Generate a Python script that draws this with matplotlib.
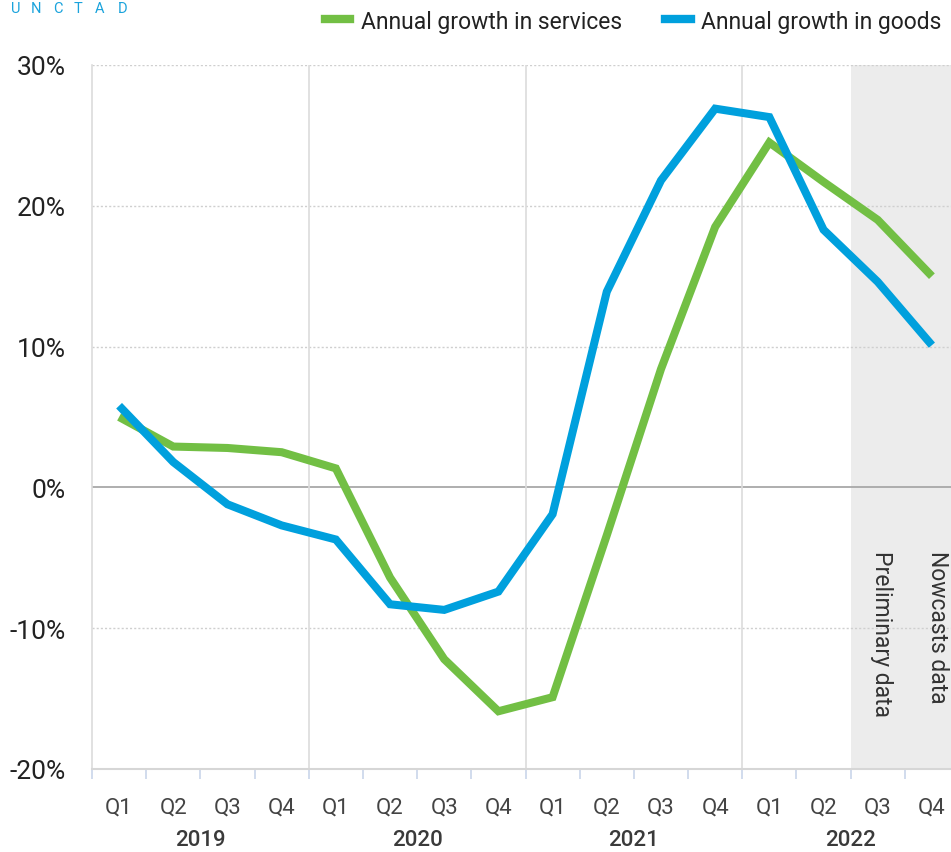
import matplotlib
matplotlib.use("Agg")
import matplotlib.pyplot as plt
import matplotlib.transforms as mtransforms
from matplotlib.lines import Line2D

plt.rcParams['font.family'] = ['Roboto', 'DejaVu Sans']

quarters = ["Q1", "Q2", "Q3", "Q4"] * 4
years = ["2019", "2020", "2021", "2022"]
services = [5.0, 2.9, 2.8, 2.5, 1.35, -6.4, -12.2, -15.9, -14.9, -3.4, 8.4, 18.5, 24.5, 21.7, 19.0, 15.0]
goods = [5.8, 1.8, -1.2, -2.7, -3.7, -8.3, -8.7, -7.4, -1.9, 13.9, 21.8, 26.9, 26.3, 18.3, 14.6, 10.1]
yticks = [-20, -10, 0, 10, 20, 30]
green = "#72bf44"
blue = "#00a0dd"

W, H = 951, 853
fig = plt.figure(figsize=(W / 100, H / 100), dpi=100)
ax_left, ax_right = 92, 959
ax = fig.add_axes([ax_left / W, 1 - 770 / H, (ax_right - ax_left) / W, (770 - 66) / H])
x = list(range(len(services)))

ax.set_xlim(-0.5, len(x) - 0.5)
ax.set_ylim(-20, 30)

# shaded nowcast region
ax.axvspan(13.5, len(x) - 0.5, color="#ececec", zorder=0, lw=0)

# grid
for v in [10, 20, 30, -10]:
    ax.axhline(v, color="#cfcfcf", lw=1, ls=(0, (1.5, 1.5)), zorder=1)
ax.axhline(0, color="#a8a8a8", lw=1.3, zorder=1)
for b in [3.5, 7.5, 11.5]:
    ax.axvline(b, color="#dcdcdc", lw=1.2, zorder=1)

ax.plot(x, services, color=green, lw=5.8, solid_capstyle="butt", solid_joinstyle="miter", zorder=3)
ax.plot(x, goods, color=blue, lw=5.8, solid_capstyle="butt", solid_joinstyle="miter", zorder=4)

for s in ["top", "right"]:
    ax.spines[s].set_visible(False)
ax.spines["left"].set_color("#dcdcdc")
ax.spines["left"].set_linewidth(1.2)
ax.spines["bottom"].set_color("#d6d6d6")
ax.spines["bottom"].set_linewidth(1.5)

ax.set_yticks(yticks)
ax.set_yticklabels([f"{v}%" for v in yticks], fontsize=19, color="#222222")
ax.tick_params(axis="y", length=0, pad=19)

ax.set_xticks([i - 0.5 for i in range(len(x) + 1)])
ax.set_xticklabels([])
ax.tick_params(axis="x", length=7, width=1.2, color="#c9d5ea", direction="out")

trans = mtransforms.blended_transform_factory(ax.transData, fig.transFigure)
for i, q in enumerate(quarters):
    ax.text(i, 1 - 808 / H, q, transform=trans, ha="center", va="center",
            fontsize=16, color="#444444")
for j, yr in enumerate(years):
    ax.text(4 * j + 1.5, 1 - 841 / H, yr, transform=trans, ha="center", va="center",
            fontsize=16, color="#3a3a3a", fontweight=500)

# annotations
ax.text(14.07, -4.45, "Preliminary data", rotation=270, ha="center", va="top",
        fontsize=16.5, color="#333333", zorder=5)
ax.text(15.1, -4.45, "Nowcasts data", rotation=270, ha="center", va="top",
        fontsize=16.5, color="#333333", zorder=5)

# legend
handles = [Line2D([0], [0], color=green, lw=6), Line2D([0], [0], color=blue, lw=6)]
fig.legend(handles, ["Annual growth in services", "Annual growth in goods"],
           loc="center right", bbox_to_anchor=(0.9995, 1 - 22 / H), ncol=2, frameon=False,
           fontsize=16.5, handlelength=1.1, handletextpad=0.45, columnspacing=1.9,
           borderaxespad=0, labelcolor="#222222")

# UNCTAD logo text
for lx, letter in zip([16, 36, 57.5, 77.5, 100, 123], "UNCTAD"):
    fig.text(lx / W, 1 - 13 / H, letter, ha="center", va="baseline", fontsize=10.5,
             color="#1aa3dc")

fig.savefig("out.png", dpi=100)
